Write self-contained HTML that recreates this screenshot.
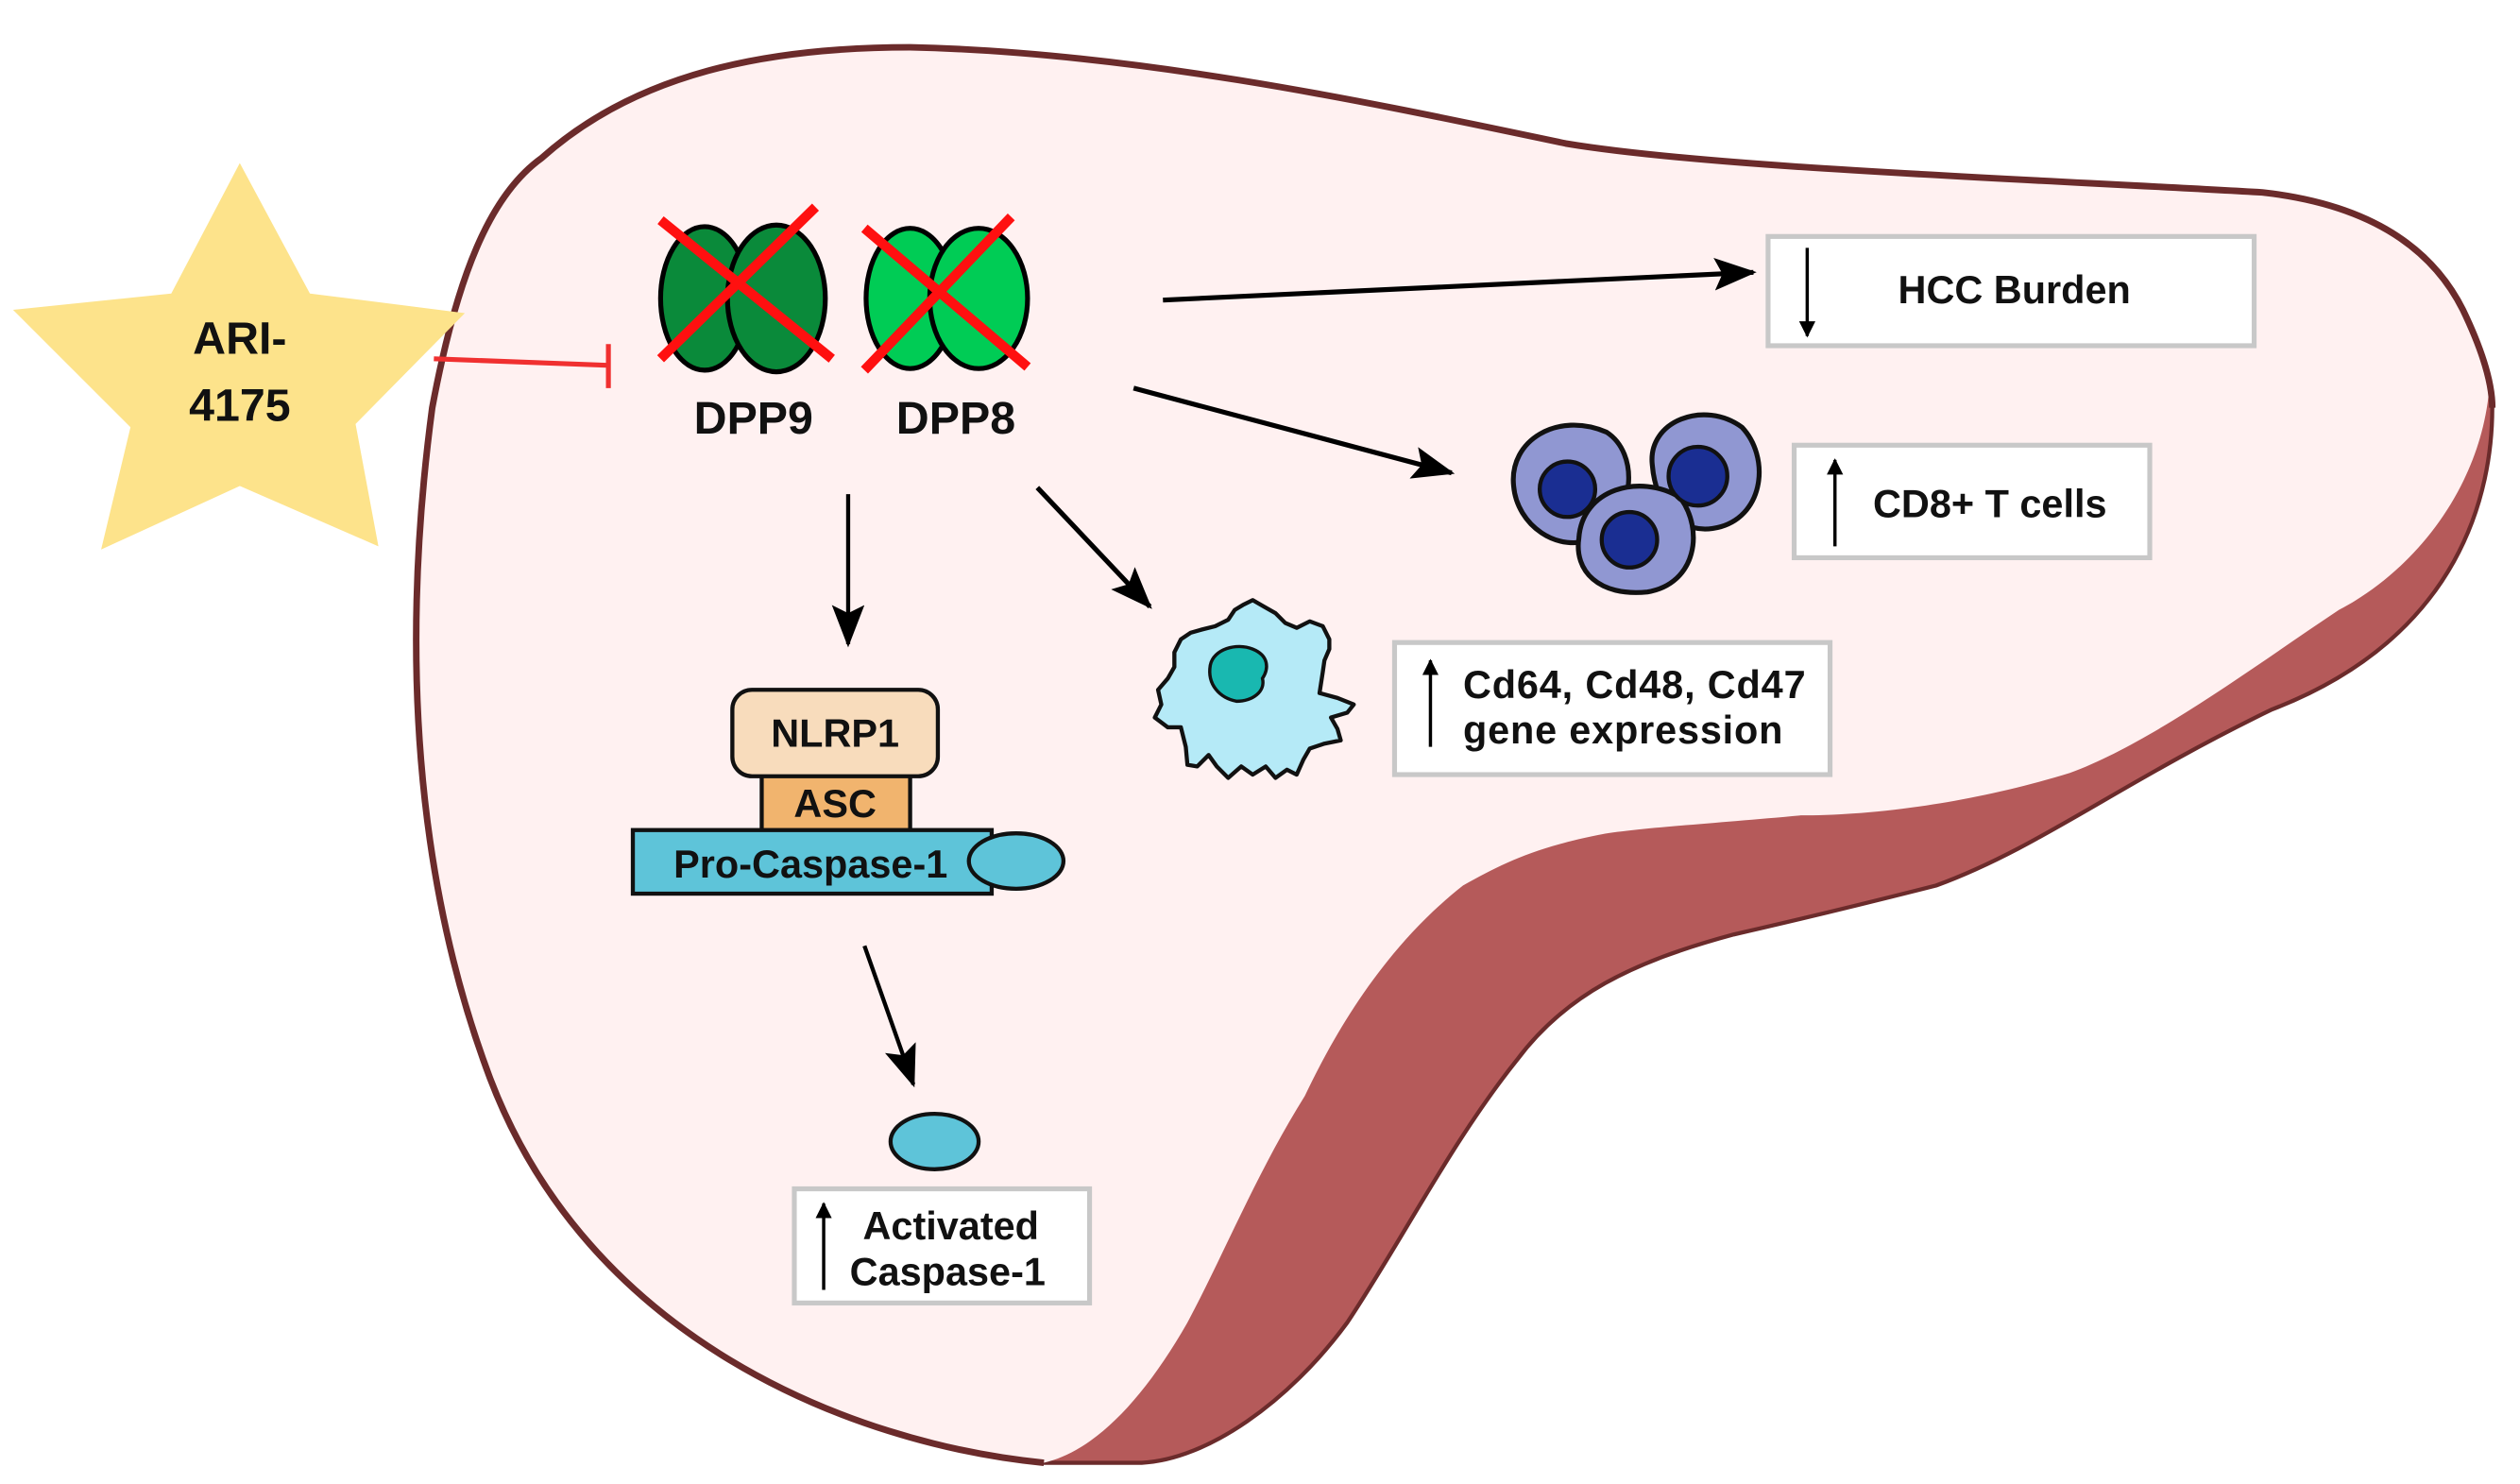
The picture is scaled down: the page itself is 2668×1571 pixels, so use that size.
<!DOCTYPE html>
<html><head><meta charset="utf-8"><style>
html,body{margin:0;padding:0;background:#fff;}
svg{display:block;}
text{font-family:"Liberation Sans",sans-serif;font-weight:bold;fill:#111;}
</style></head><body>
<svg width="2668" height="1571" viewBox="0 0 1545 910" preserveAspectRatio="none" xmlns="http://www.w3.org/2000/svg">
<defs>
<marker id="ah" markerWidth="10" markerHeight="10" refX="9" refY="5" orient="auto" markerUnits="userSpaceOnUse">
<path d="M0,0 L10,5 L0,10 z" fill="#000"/></marker>
<marker id="ahb" markerWidth="26" markerHeight="20" refX="24" refY="10" orient="auto" markerUnits="userSpaceOnUse">
<path d="M0,0 L26,10 L0,20 L5,10 z" fill="#000"/></marker>
</defs>
<!-- liver dark -->
<path d="M640,897 C520,885 360,820 300,660 C255,540 245,400 265,250 C280,170 300,120 332,97 C390,45 470,29 558,29 C700,32 850,65 960,88 C1050,103 1250,110 1387,118 C1450,125 1490,150 1510,190 C1522,215 1528,235 1528,250 C1528,300 1510,390 1393,435 C1300,480 1250,520 1187,543 C1120,560 1063,573 1063,573 C1000,590 960,610 930,650 C890,700 860,760 826,811 C790,860 740,895 700,897 Z" fill="#b55a5a" stroke="#6b2b2b" stroke-width="2.5"/>
<!-- liver pink -->
<path d="M640,897 C520,885 360,820 300,660 C255,540 245,400 265,250 C280,170 300,120 332,97 C390,45 470,29 558,29 C700,32 850,65 960,88 C1050,103 1250,110 1387,118 C1450,125 1490,150 1510,190 C1520,212 1525,228 1526,240 C1520,300 1480,350 1434,374 C1380,410 1320,455 1269,474 C1200,495 1140,500 1104,500 C1050,505 1000,508 980,512 C940,520 920,530 897,543 C850,580 820,630 800,672 C770,720 750,770 728,811 C700,860 670,890 640,897 Z" fill="#fff1f1"/>
<path d="M640,897 C520,885 360,820 300,660 C255,540 245,400 265,250 C280,170 300,120 332,97 C390,45 470,29 558,29 C700,32 850,65 960,88 C1050,103 1250,110 1387,118 C1450,125 1490,150 1510,190 C1522,215 1528,235 1528,250" fill="none" stroke="#6b2b2b" stroke-width="4"/>
<!-- star -->
<polygon points="147,100 190,180 285,192 218,260 232,335 147,298 62,337 80,262 8,190 105,180" fill="#fde38b"/>
<text x="147" y="217" font-size="28" text-anchor="middle">ARI-</text>
<text x="147" y="258" font-size="28" text-anchor="middle">4175</text>
<line x1="266" y1="220" x2="372" y2="224" stroke="#f03030" stroke-width="3"/>
<line x1="373" y1="211" x2="373" y2="238" stroke="#f03030" stroke-width="3"/>
<!-- DPP -->
<ellipse cx="432" cy="183" rx="27" ry="44" fill="#0a8a3a" stroke="#000" stroke-width="3"/>
<ellipse cx="476" cy="183" rx="30" ry="45" fill="#0a8a3a" stroke="#000" stroke-width="3"/>
<ellipse cx="558" cy="183" rx="27" ry="43" fill="#00cc55" stroke="#000" stroke-width="3"/>
<ellipse cx="600" cy="183" rx="30" ry="43" fill="#00cc55" stroke="#000" stroke-width="3"/>
<g stroke="#ff1010" stroke-width="6">
<line x1="405" y1="135" x2="510" y2="220"/>
<line x1="500" y1="127" x2="405" y2="220"/>
<line x1="530" y1="140" x2="630" y2="225"/>
<line x1="620" y1="133" x2="530" y2="227"/>
</g>
<text x="462" y="266" font-size="28" text-anchor="middle">DPP9</text>
<text x="586" y="266" font-size="28" text-anchor="middle">DPP8</text>
<!-- arrows -->
<line x1="713" y1="184" x2="1075" y2="167" stroke="#000" stroke-width="3" marker-end="url(#ahb)"/>
<line x1="695" y1="238" x2="890" y2="290" stroke="#000" stroke-width="3" marker-end="url(#ahb)"/>
<line x1="636" y1="299" x2="705" y2="372" stroke="#000" stroke-width="3" marker-end="url(#ahb)"/>
<line x1="520" y1="303" x2="520" y2="395" stroke="#000" stroke-width="2.5" marker-end="url(#ahb)"/>
<line x1="530" y1="580" x2="560" y2="665" stroke="#000" stroke-width="2.5" marker-end="url(#ahb)"/>
<!-- HCC box -->
<rect x="1084" y="145" width="298" height="67" fill="#fff" stroke="#c8c8c8" stroke-width="3"/>
<line x1="1108" y1="152" x2="1108" y2="206" stroke="#000" stroke-width="2" marker-end="url(#ah)"/>
<text x="1235" y="186" font-size="24" text-anchor="middle">HCC Burden</text>
<!-- T cells -->
<g stroke="#111" stroke-width="3" fill="#9097d2">
<path d="M928,298 C925,270 955,252 985,265 C1005,278 1003,315 978,330 C955,340 930,322 928,298 Z"/>
<path d="M1013,285 C1010,258 1045,245 1068,262 C1085,280 1082,315 1055,323 C1030,330 1015,310 1013,285 Z"/>
<path d="M968,330 C970,300 1005,290 1030,305 C1045,325 1040,358 1010,363 C980,366 965,350 968,330 Z"/>
</g>
<g fill="#1a2e92" stroke="#111" stroke-width="2.5">
<circle cx="961" cy="300" r="17"/><circle cx="1041" cy="292" r="18"/><circle cx="999" cy="331" r="17"/>
</g>
<rect x="1100" y="273" width="218" height="69" fill="#fff" stroke="#c8c8c8" stroke-width="3"/>
<line x1="1125" y1="335" x2="1125" y2="282" stroke="#000" stroke-width="2" marker-end="url(#ah)"/>
<text x="1220" y="317" font-size="24" text-anchor="middle">CD8+ T cells</text>
<!-- macrophage -->
<path d="M768,368 L775,372 782,376 788,382 795,385 803,381 811,384 815,392 815,398 812,405 811,412 809,425 820,428 830,432 826,437 816,440 820,447 822,454 812,456 803,459 799,466 795,475 789,472 782,477 776,470 768,475 761,470 753,477 746,470 741,463 734,470 728,469 727,458 724,446 716,446 708,440 712,432 710,423 716,416 720,409 720,400 724,392 730,388 737,386 745,384 753,380 757,374 762,371 Z" fill="#b5eaf7" stroke="#111" stroke-width="2.5" stroke-linejoin="round"/>
<path d="M742,408 C744,398 758,394 768,398 C778,402 778,410 774,416 C776,424 768,430 758,430 C748,428 740,420 742,408 Z" fill="#19b8b0" stroke="#111" stroke-width="2"/>
<rect x="855" y="394" width="267" height="81" fill="#fff" stroke="#c8c8c8" stroke-width="3"/>
<line x1="877" y1="458" x2="877" y2="405" stroke="#000" stroke-width="2" marker-end="url(#ah)"/>
<text x="897" y="428" font-size="24" textLength="210">Cd64, Cd48, Cd47</text>
<text x="897" y="456" font-size="24" textLength="196">gene expression</text>
<!-- inflammasome -->
<rect x="467" y="474" width="91" height="37" fill="#f1b46e" stroke="#111" stroke-width="2.5"/>
<rect x="449" y="423" width="126" height="53" rx="12" fill="#f8dcbc" stroke="#111" stroke-width="2.5"/>
<text x="512" y="458" font-size="24" text-anchor="middle">NLRP1</text>
<text x="512" y="501" font-size="24" text-anchor="middle">ASC</text>
<rect x="388" y="509" width="220" height="39" fill="#5ec4d9" stroke="#111" stroke-width="2.5"/>
<ellipse cx="623" cy="528" rx="29" ry="17" fill="#5ec4d9" stroke="#111" stroke-width="2.5"/>
<text x="497" y="538" font-size="24" text-anchor="middle">Pro-Caspase-1</text>
<ellipse cx="573" cy="700" rx="27" ry="17" fill="#5ec4d9" stroke="#111" stroke-width="2.5"/>
<rect x="487" y="729" width="181" height="70" fill="#fff" stroke="#c8c8c8" stroke-width="3"/>
<line x1="505" y1="791" x2="505" y2="738" stroke="#000" stroke-width="2" marker-end="url(#ah)"/>
<text x="583" y="760" font-size="24" text-anchor="middle">Activated</text>
<text x="581" y="788" font-size="24" text-anchor="middle">Caspase-1</text>
</svg>
</body></html>
